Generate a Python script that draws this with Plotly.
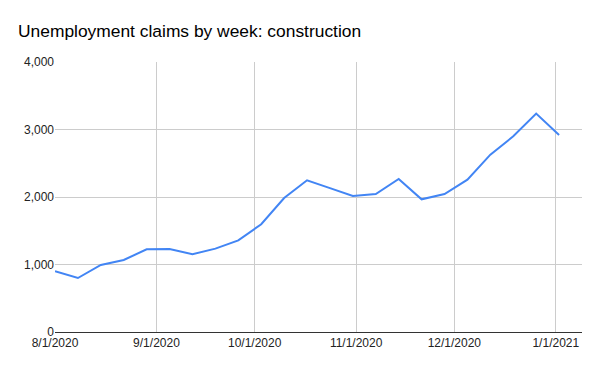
import plotly.graph_objects as go

weeks = ["2020-08-01", "2020-08-08", "2020-08-15", "2020-08-22", "2020-08-29",
         "2020-09-05", "2020-09-12", "2020-09-19", "2020-09-26", "2020-10-03",
         "2020-10-10", "2020-10-17", "2020-10-24", "2020-10-31", "2020-11-07",
         "2020-11-14", "2020-11-21", "2020-11-28", "2020-12-05", "2020-12-12",
         "2020-12-19", "2020-12-26", "2021-01-02"]
claims = [900, 800, 993, 1067, 1225, 1230, 1151, 1235, 1358, 1596,
          1985, 2247, 2131, 2015, 2044, 2267, 1966, 2044, 2257, 2628,
          2899, 3235, 2919]

x_tick_vals = ["2020-08-01", "2020-09-01", "2020-10-01", "2020-11-01", "2020-12-01", "2021-01-01"]
x_tick_text = ["8/1/2020", "9/1/2020", "10/1/2020", "11/1/2020", "12/1/2020", "1/1/2021"]
y_tick_vals = [0, 1000, 2000, 3000, 4000]
y_tick_text = ["0", "1,000", "2,000", "3,000", "4,000"]

fig = go.Figure()
fig.add_trace(go.Scatter(x=weeks, y=claims, mode="lines",
                         line=dict(color="#4285F4", width=2), showlegend=False))

fig.update_layout(
    width=600, height=371,
    margin=dict(l=55, r=18, t=62, b=39),
    paper_bgcolor="white", plot_bgcolor="white",
    font=dict(family="Liberation Sans, Arial, sans-serif", color="#222222", size=12),
    title=dict(text="Unemployment claims by week: construction",
               x=18/600, xanchor="left", y=1-31/371, yanchor="middle",
               font=dict(size=17.4, color="#000000")),
)
fig.update_xaxes(type="date", range=["2020-08-01", "2021-01-09"],
                 tickvals=x_tick_vals, ticktext=x_tick_text,
                 showgrid=True, gridcolor="#cccccc", gridwidth=1,
                 showline=True, linecolor="#333333", linewidth=1,
                 ticks="", zeroline=False, tickfont=dict(size=12, color="#222222"))
fig.update_yaxes(range=[0, 4000], tickvals=y_tick_vals, ticktext=y_tick_text,
                 showgrid=True, gridcolor="#cccccc", gridwidth=1,
                 showline=False, zeroline=False, ticks="",
                 tickfont=dict(size=12, color="#222222"))

fig.write_html("out.html")
